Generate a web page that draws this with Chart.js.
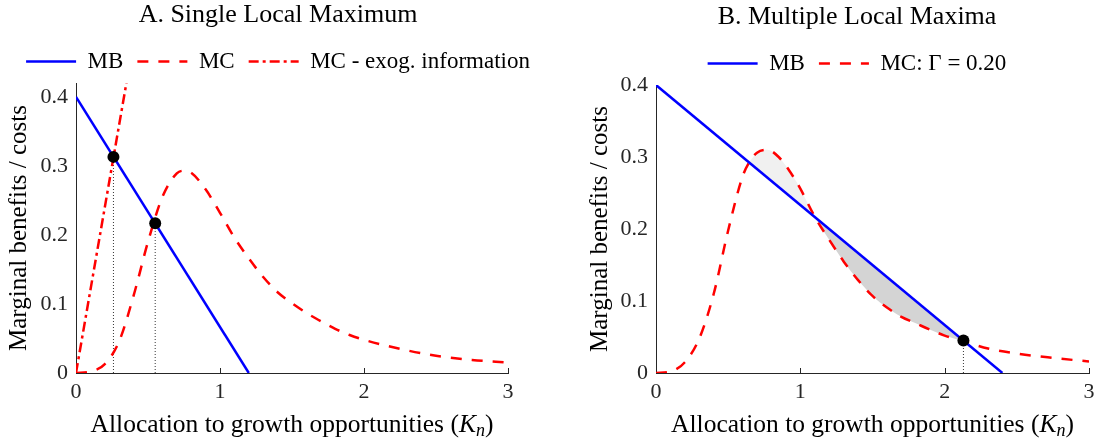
<!DOCTYPE html>
<html><head><meta charset="utf-8">
<script src="https://cdn.jsdelivr.net/npm/chart.js@4.4.1/dist/chart.umd.min.js"></script>
<style>
html,body{margin:0;padding:0;overflow:hidden;background:#fff;width:1101px;height:443px;position:relative;}
canvas{position:absolute;top:0;}
#cA{left:0px;} #cB{left:560px;}
</style></head><body>
<canvas id="cA" width="556" height="443"></canvas>
<canvas id="cB" width="594" height="443"></canvas>
<script>
// ---- tick labels ----
const xTicks = [0, 1, 2, 3];
const xTickLabels = ['0', '1', '2', '3'];
const yTicks = [0, 0.1, 0.2, 0.3, 0.4];
const yTickLabels = ['0', '0.1', '0.2', '0.3', '0.4'];

// ---- Panel A: Single Local Maximum ----
const aMBx = [0, 1.2];
const aMBy = [0.4, 0];
const aMCx = [0, 0.1, 0.2, 0.3, 0.4, 0.5, 0.6, 0.7, 0.75, 0.8, 0.9, 1.0, 1.1, 1.2, 1.3, 1.4, 1.5, 1.6, 1.7, 1.8, 1.9, 2.0, 2.25, 2.5, 2.75, 3.0];
const aMCy = [0, 0.002, 0.013, 0.046, 0.112, 0.19, 0.255, 0.289, 0.293, 0.29, 0.266, 0.232, 0.196, 0.166, 0.139, 0.117, 0.101, 0.087, 0.075, 0.064, 0.055, 0.048, 0.035, 0.025, 0.019, 0.015];
const aExogX = [0, 0.36];
const aExogY = [0, 0.432];
const aDotX = [0.26, 0.55];
const aDotY = [0.313, 0.217];

// ---- Panel B: Multiple Local Maxima ----
const bMBx = [0, 2.4];
const bMBy = [0.4, 0];
const bMCx = [0, 0.1, 0.2, 0.3, 0.4, 0.5, 0.6, 0.65, 0.7, 0.77, 0.85, 0.95, 1.0, 1.1, 1.2, 1.3, 1.4, 1.5, 1.6, 1.7, 1.8, 1.9, 2.0, 2.13, 2.3, 2.5, 2.75, 3.0];
const bMCy = [0, 0.002, 0.015, 0.048, 0.11, 0.198, 0.273, 0.294, 0.306, 0.31, 0.30, 0.273, 0.256, 0.217, 0.185, 0.155, 0.129, 0.107, 0.091, 0.078, 0.069, 0.060, 0.052, 0.044, 0.034, 0.027, 0.021, 0.016];
const bShadeRange = [0.65, 2.13];
const bDotX = [2.13];
const bDotY = [0.045];

const FONT = '"Liberation Serif", "Times New Roman", serif';
Chart.defaults.font.family = FONT;
Chart.defaults.color = '#262626';

const xy = (xs, ys) => xs.map((x, i) => ({x: x, y: ys[i]}));

const decor = {
  id: 'decor',
  afterDraw(chart, args, opts) {
    const {ctx, chartArea: a, scales: {x}} = chart;
    ctx.save();
    ctx.strokeStyle = '#262626';
    ctx.lineWidth = 1;
    x.ticks.forEach(t => {
      const px = Math.round(x.getPixelForValue(t.value)) + 0.5;
      if (px - a.left < 2) return;
      ctx.beginPath();
      ctx.moveTo(px, a.bottom);
      ctx.lineTo(px, a.bottom - 5);
      ctx.stroke();
    });
    // x-axis title with math-style K_n
    const parts = [
      {t: 'Allocation to growth opportunities (', f: '25.5px ' + FONT, dy: 0},
      {t: 'K', f: 'italic 25.5px ' + FONT, dy: 0},
      {t: 'n', f: 'italic 18px ' + FONT, dy: 4},
      {t: ')', f: '25.5px ' + FONT, dy: 0}
    ];
    let total = 0;
    parts.forEach(p => { ctx.font = p.f; p.w = ctx.measureText(p.t).width; total += p.w; });
    let cx = (a.left + a.right) / 2 - total / 2;
    ctx.fillStyle = '#000';
    ctx.textBaseline = 'alphabetic';
    ctx.textAlign = 'left';
    parts.forEach(p => { ctx.font = p.f; ctx.fillText(p.t, cx, opts.titleY + p.dy); cx += p.w; });
    ctx.restore();
  }
};

function panel(id, o) {
  const ds = [];
  ds.push({label: 'MB', data: xy(o.mbX, o.mbY), borderColor: '#0000ff', backgroundColor: '#0000ff',
    borderWidth: 2.5, pointRadius: 0, order: 1});
  ds.push({label: o.mcLabel, data: xy(o.mcX, o.mcY), borderColor: '#ff0000', backgroundColor: '#ff0000',
    borderWidth: 2.5, borderDash: [11, 10], pointRadius: 0, tension: 0.4, cubicInterpolationMode: 'monotone', order: 2});
  if (o.exX) {
    ds.push({label: 'MC - exog. information', data: xy(o.exX, o.exY), borderColor: '#ff0000', backgroundColor: '#ff0000',
      borderWidth: 2.5, borderDash: [10, 4, 3, 4], pointRadius: 0, clip: 0, order: 3});
  }
  const nLegend = ds.length;
  o.dotX.forEach((vx, i) => {
    ds.push({label: '', data: [{x: vx, y: 0}, {x: vx, y: o.dotY[i]}], borderColor: '#000',
      borderWidth: 0.8, borderDash: [1, 2], pointRadius: 0, order: 4});
  });
  ds.push({label: '', data: xy(o.dotX, o.dotY), showLine: false, pointRadius: 6,
    pointBackgroundColor: '#000', pointBorderWidth: 0, order: 0});
  if (o.shade) {
    const sx = [], sy = [];
    o.mcX.forEach((v, i) => { if (v >= o.shade[0] - 1e-9 && v <= o.shade[1] + 1e-9) { sx.push(v); sy.push(o.mcY[i]); } });
    ds.push({label: '', data: xy(sx, sy), borderColor: 'rgba(0,0,0,0)', borderWidth: 0, pointRadius: 0,
      tension: 0.4, cubicInterpolationMode: 'monotone',
      fill: {target: 0, above: '#f0f0f0', below: '#d4d4d4'}, order: 5});
  }
  const baseLabels = Chart.defaults.plugins.legend.labels.generateLabels;
  return new Chart(document.getElementById(id), {
    type: 'line',
    data: {datasets: ds},
    plugins: [decor],
    options: {
      responsive: false,
      animation: false,
      events: [],
      layout: {padding: 0},
      plugins: {
        decor: {titleY: 432},
        title: {display: true, text: o.title, color: '#000',
          font: {size: 26, weight: 'normal', lineHeight: 0.85}, padding: {top: 0, bottom: 10}},
        legend: {display: true, position: 'top', align: 'center',
          labels: {usePointStyle: true, pointStyle: 'line', pointStyleWidth: 50, padding: 14,
            color: '#000', font: {size: 23},
            generateLabels: chart => baseLabels(chart)
              .filter(it => it.datasetIndex < nLegend)
              .map(it => {
                const d = chart.data.datasets[it.datasetIndex];
                return Object.assign(it, {lineDash: d.borderDash || [], lineWidth: d.borderWidth,
                  strokeStyle: d.borderColor, fillStyle: d.borderColor, lineCap: 'butt', pointStyle: 'line'});
              })}},
        tooltip: {enabled: false}
      },
      scales: {
        x: {type: 'linear', min: 0, max: 3,
          afterBuildTicks: s => { s.ticks = xTicks.map(v => ({value: v})); },
          ticks: {font: {size: 22}, color: '#262626', padding: 6, autoSkip: false, maxRotation: 0,
            callback: (v, i) => xTickLabels[i]},
          grid: {display: true, drawOnChartArea: false, drawTicks: false},
          border: {display: true, color: '#262626', width: 1},
          afterFit: s => { s.height = 70; s.paddingRight = o.padRight; }
        },
        y: {type: 'linear', min: 0, max: o.yMax,
          afterBuildTicks: s => { s.ticks = yTicks.map(v => ({value: v})); },
          ticks: {font: {size: 22}, color: '#262626', padding: 8, callback: (v, i) => yTickLabels[i]},
          grid: {display: true, drawOnChartArea: false, drawTicks: false},
          border: {display: true, color: '#262626', width: 1},
          title: {display: true, text: 'Marginal benefits / costs', color: '#000',
            font: {size: 25}, padding: {top: o.yTitlePad, bottom: 0}},
          afterFit: s => { s.width = o.yW; s.paddingTop = o.top; }
        }
      }
    }
  });
}

panel('cA', {title: 'A. Single Local Maximum', mcLabel: 'MC',
  mbX: aMBx, mbY: aMBy, mcX: aMCx, mcY: aMCy, exX: aExogX, exY: aExogY,
  dotX: aDotX, dotY: aDotY, yMax: 0.42, yW: 76, padRight: 48, top: 83, yTitlePad: 4});
panel('cB', {title: 'B. Multiple Local Maxima', mcLabel: 'MC: \u0393 = 0.20',
  mbX: bMBx, mbY: bMBy, mcX: bMCx, mcY: bMCy, shade: bShadeRange,
  dotX: bDotX, dotY: bDotY, yMax: 0.4, yW: 96, padRight: 65, top: 85, yTitlePad: 25});
</script></body></html>
